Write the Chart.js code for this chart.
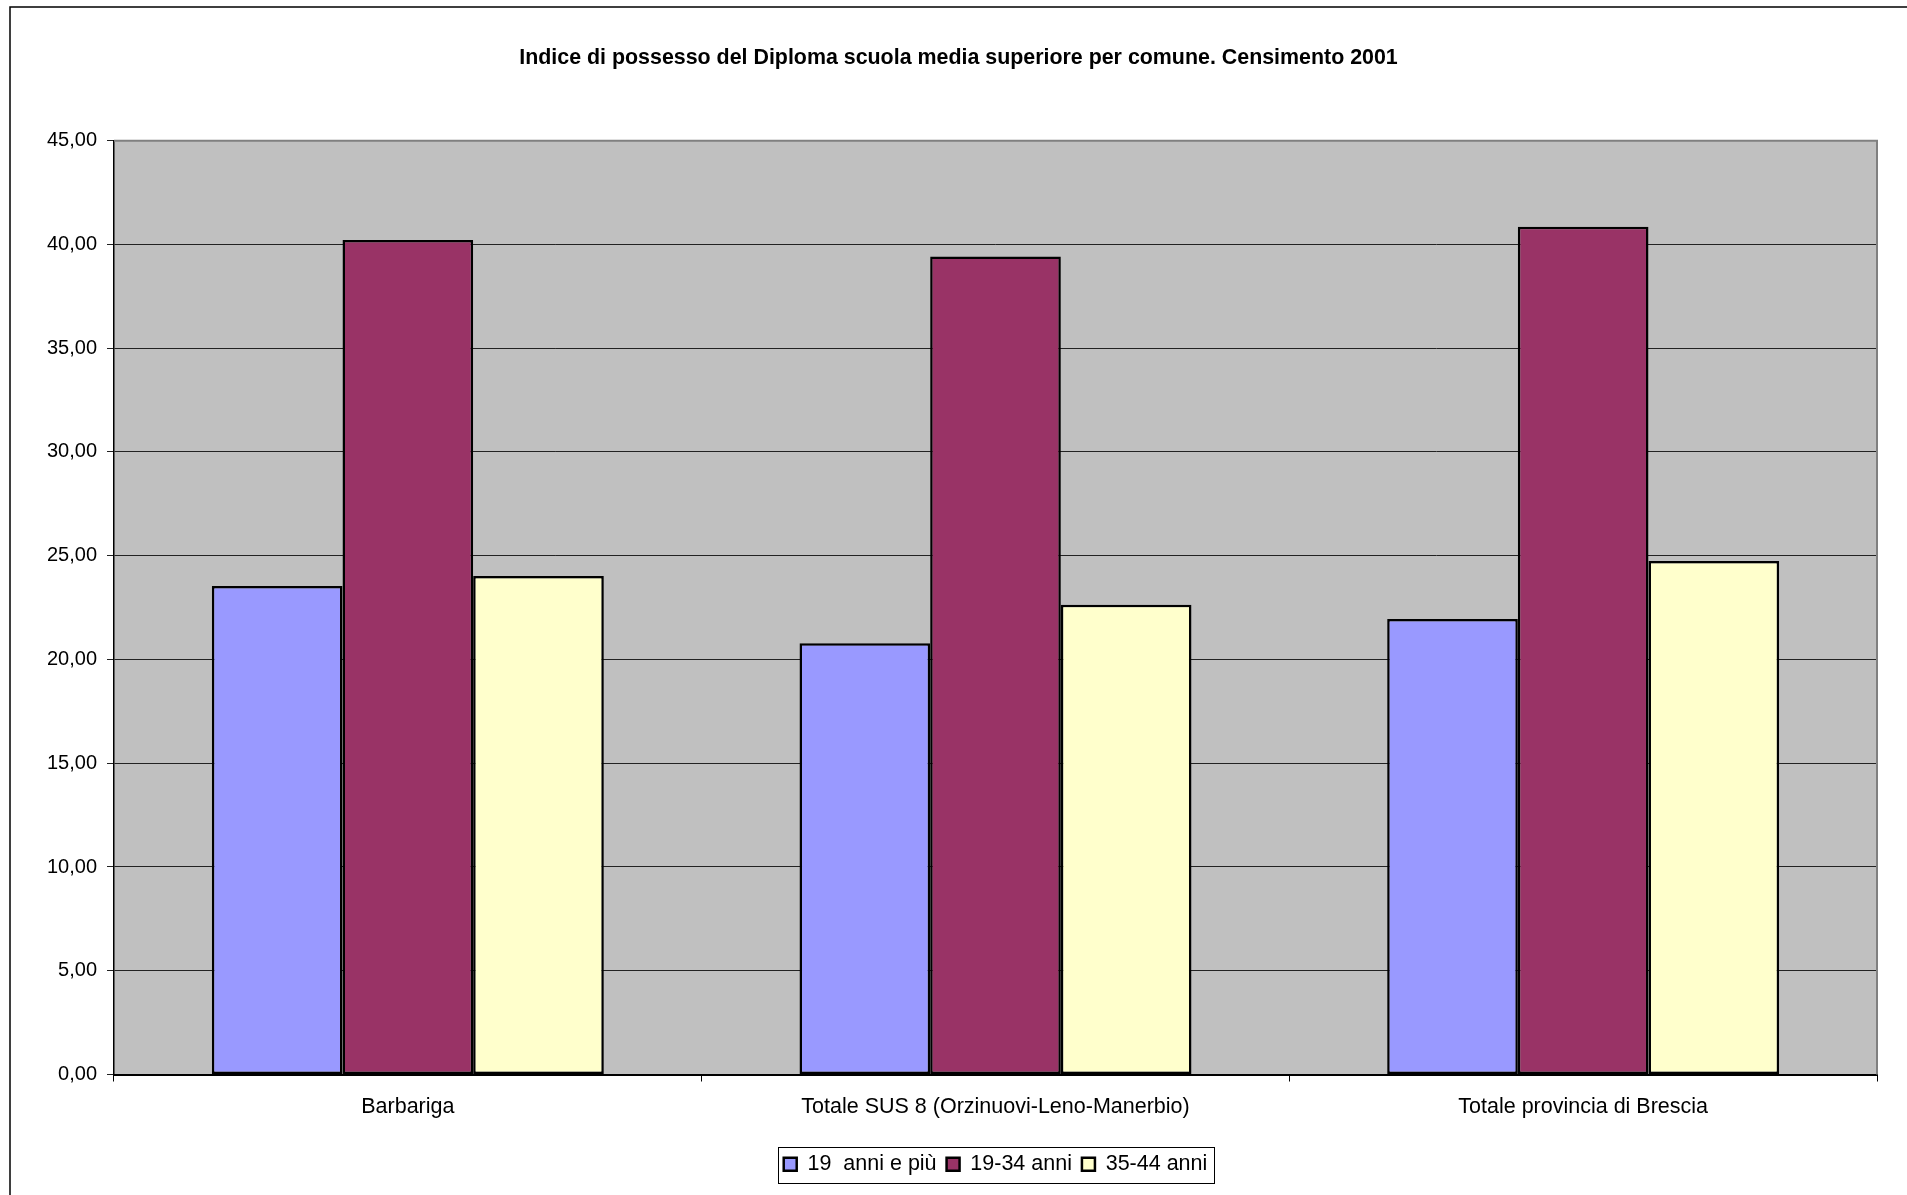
<!DOCTYPE html>
<html>
<head>
<meta charset="utf-8">
<script src="https://cdn.jsdelivr.net/npm/chart.js@4.4.0/dist/chart.umd.min.js"></script>
<style>
  html, body { margin: 0; padding: 0; background: #fff; }
  #c-chart { width: 1907px; height: 1195px; position: relative; }
</style>
</head>
<body>
<div id="c-chart"><canvas id="chartArea"></canvas></div>
<script>
const categories = ["Barbariga", "Totale SUS 8 (Orzinuovi-Leno-Manerbio)", "Totale provincia di Brescia"];
const seriesNames = ["19  anni e più", "19-34 anni", "35-44 anni"];
const anni19piu = [23.54, 20.78, 21.95];
const anni1934 = [40.21, 39.42, 40.85];
const anni3544 = [24.02, 22.64, 24.74];
const yMin = 0, yMax = 45, yStep = 5;

(function(){
    const chartCanvas = document.getElementById("chartArea");
    const font = "'Liberation Sans', Arial, sans-serif";

    // grey plot background + grey top/right border, like the old excel chart
    const plotBg = {
        id: "plotBg",
        beforeDraw(chart) {
            const {ctx, chartArea: a} = chart;
            ctx.save();
            ctx.fillStyle = "#C0C0C0";
            ctx.fillRect(a.left, a.top, a.right - a.left, a.bottom - a.top);
            ctx.restore();
        },
        afterDraw(chart) {
            const {ctx, chartArea: a} = chart;
            ctx.save();
            ctx.strokeStyle = "#808080";
            ctx.lineWidth = 2;
            ctx.beginPath();
            ctx.moveTo(a.left, a.top);
            ctx.lineTo(a.right, a.top);
            ctx.lineTo(a.right, a.bottom);
            ctx.stroke();
            // outer frame
            ctx.strokeStyle = "#000";
            ctx.lineWidth = 1.5;
            ctx.beginPath();
            ctx.moveTo(10, 1195);
            ctx.lineTo(10, 7);
            ctx.lineTo(1907, 7);
            ctx.stroke();
            // box around legend
            const boxes = chart.legend.legendHitBoxes;
            if (boxes && boxes.length) {
                const l = Math.min(...boxes.map(b => b.left)) - 6;
                const r = Math.max(...boxes.map(b => b.left + b.width)) + 6;
                const t = Math.min(...boxes.map(b => b.top)) - 7;
                const bt = Math.max(...boxes.map(b => b.top + b.height)) + 7;
                ctx.lineWidth = 1;
                ctx.strokeRect(Math.round(l) + 0.5, Math.round(t) + 0.5, Math.round(r - l), Math.round(bt - t));
            }
            ctx.restore();
        }
    };

    const mk = (label, data, color) => ({
        label: label,
        data: data,
        backgroundColor: color,
        borderColor: "#000",
        borderWidth: 2.5,
        borderSkipped: false
    });

    new Chart(chartCanvas, {
        type: "bar",
        data: {
            labels: categories,
            datasets: [
                mk(seriesNames[0], anni19piu, "#9999FF"),
                mk(seriesNames[1], anni1934, "#993366"),
                mk(seriesNames[2], anni3544, "#FFFFCC")
            ]
        },
        options: {
            responsive: true,
            maintainAspectRatio: false,
            animation: false,
            datasets: { bar: { categoryPercentage: 0.667, barPercentage: 1 } },
            layout: { padding: { left: 40, right: 30, top: 0, bottom: 10 } },
            plugins: {
                title: {
                    display: true,
                    text: "Indice di possesso del Diploma scuola media superiore per comune. Censimento 2001",
                    color: "#000",
                    font: { family: font, size: 21.4, weight: "bold" },
                    padding: { top: 45, bottom: 70 }
                },
                legend: {
                    position: "bottom",
                    fullSize: false,
                    labels: {
                        color: "#000",
                        font: { family: font, size: 21.5 },
                        boxWidth: 13,
                        boxHeight: 13,
                        padding: 10
                    }
                },
                tooltip: { enabled: false }
            },
            scales: {
                x: {
                    grid: { drawOnChartArea: false, drawTicks: true, tickLength: 7, color: "#000", offset: true },
                    border: { color: "#000", width: 2 },
                    ticks: { color: "#000", font: { family: font, size: 21.5 }, padding: 13, maxRotation: 0 },
                    afterFit(scale) { scale.height = 69; }
                },
                y: {
                    min: yMin,
                    max: yMax,
                    grid: { color: "#222", lineWidth: 1, tickLength: 7 },
                    border: { color: "#000", width: 1.5 },
                    ticks: {
                        stepSize: yStep,
                        color: "#000",
                        font: { family: font, size: 20 },
                        padding: 10,
                        callback: v => v.toFixed(2).replace(".", ",")
                    },
                    afterFit(scale) { scale.width = 74; }
                }
            }
        },
        plugins: [plotBg]
    });
})();
</script>
</body>
</html>
